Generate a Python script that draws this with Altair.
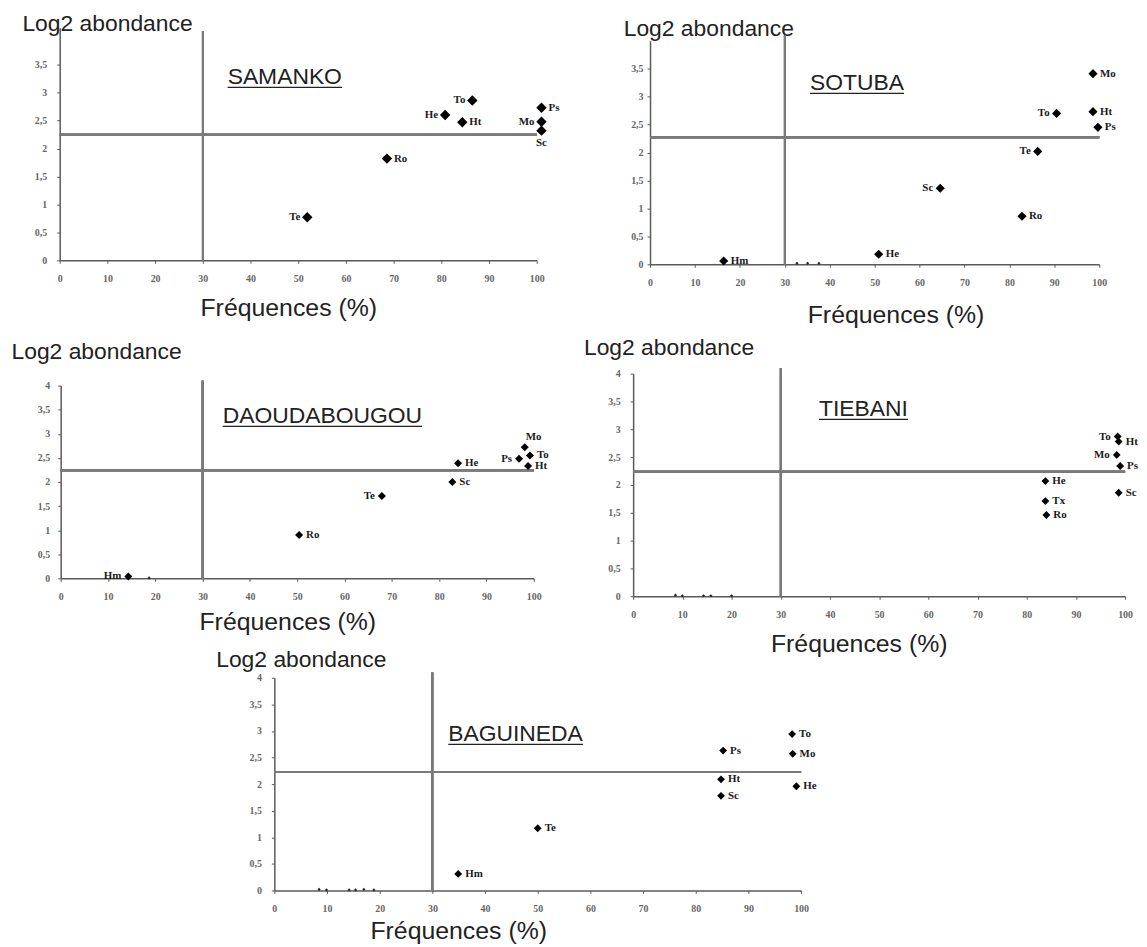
import altair as alt
import pandas as pd

# ---------------- data ----------------
PANELS = ["SAMANKO", "SOTUBA", "DAOUDABOUGOU", "TIEBANI", "BAGUINEDA"]

SAMANKO_SPECIES = ["Te", "Ro", "He", "Ht", "To", "Ps", "Mo", "Sc"]
SAMANKO_FREQ = [51.9, 68.6, 80.8, 84.4, 86.5, 101.0, 101.0, 101.0]
SAMANKO_LOG2 = [0.77, 1.82, 2.60, 2.47, 2.86, 2.73, 2.48, 2.32]
SAMANKO_MINOR_FREQ = []
SAMANKO_MINOR_LOG2 = []

SOTUBA_SPECIES = ["Hm", "He", "Sc", "Ro", "Te", "To", "Mo", "Ht", "Ps"]
SOTUBA_FREQ = [16.4, 50.9, 64.6, 82.8, 86.3, 90.5, 98.6, 98.6, 99.7]
SOTUBA_LOG2 = [0.06, 0.18, 1.36, 0.86, 2.02, 2.70, 3.41, 2.73, 2.45]
SOTUBA_MINOR_FREQ = [32.7, 35.1, 37.6]
SOTUBA_MINOR_LOG2 = [0.02, 0.02, 0.02]

DAOUDA_SPECIES = ["Hm", "Ro", "Te", "Sc", "He", "Ps", "Mo", "To", "Ht"]
DAOUDA_FREQ = [14.3, 50.4, 67.9, 82.8, 84.0, 96.9, 98.1, 99.2, 98.8]
DAOUDA_LOG2 = [0.04, 0.90, 1.71, 2.00, 2.39, 2.48, 2.72, 2.55, 2.33]
DAOUDA_MINOR_FREQ = [18.7]
DAOUDA_MINOR_LOG2 = [0.01]

TIEBANI_SPECIES = ["He", "Tx", "Ro", "To", "Ht", "Mo", "Ps", "Sc"]
TIEBANI_FREQ = [83.8, 83.8, 84.0, 98.5, 98.7, 98.3, 99.0, 98.7]
TIEBANI_LOG2 = [2.07, 1.71, 1.46, 2.87, 2.78, 2.54, 2.34, 1.86]
TIEBANI_MINOR_FREQ = [8.6, 10.0, 14.3, 15.8, 20.0]
TIEBANI_MINOR_LOG2 = [0.02, 0.01, 0.01, 0.01, 0.01]

BAGUINEDA_SPECIES = ["Hm", "Te", "Ps", "Ht", "Sc", "To", "Mo", "He"]
BAGUINEDA_FREQ = [34.9, 50.0, 85.2, 84.8, 84.8, 98.3, 98.4, 99.1]
BAGUINEDA_LOG2 = [0.31, 1.17, 2.63, 2.09, 1.78, 2.94, 2.57, 1.96]
BAGUINEDA_MINOR_FREQ = [8.5, 9.9, 14.2, 15.4, 17.0, 18.9]
BAGUINEDA_MINOR_LOG2 = [0.02, 0.01, 0.01, 0.01, 0.02, 0.01]

THRESH_FREQ = 30
THRESH_LOG2 = [2.25, 2.27, 2.24, 2.24, 2.23]

X_TICKS = [0, 10, 20, 30, 40, 50, 60, 70, 80, 90, 100]
Y_TICKS = [0, 0.5, 1, 1.5, 2, 2.5, 3, 3.5, 4]

X_TITLE = "Fréquences (%)"
Y_TITLE = "Log2 abondance"

SERIES = {
    "SAMANKO": (SAMANKO_SPECIES, SAMANKO_FREQ, SAMANKO_LOG2, SAMANKO_MINOR_FREQ, SAMANKO_MINOR_LOG2),
    "SOTUBA": (SOTUBA_SPECIES, SOTUBA_FREQ, SOTUBA_LOG2, SOTUBA_MINOR_FREQ, SOTUBA_MINOR_LOG2),
    "DAOUDABOUGOU": (DAOUDA_SPECIES, DAOUDA_FREQ, DAOUDA_LOG2, DAOUDA_MINOR_FREQ, DAOUDA_MINOR_LOG2),
    "TIEBANI": (TIEBANI_SPECIES, TIEBANI_FREQ, TIEBANI_LOG2, TIEBANI_MINOR_FREQ, TIEBANI_MINOR_LOG2),
    "BAGUINEDA": (BAGUINEDA_SPECIES, BAGUINEDA_FREQ, BAGUINEDA_LOG2, BAGUINEDA_MINOR_FREQ, BAGUINEDA_MINOR_LOG2),
}

# ---------------- styles / layout (page pixels) ----------------
LABEL_POS = {
    "SAMANKO": {"Te": "left", "He": "left", "To": "left", "Mo": "left", "Sc": "below"},
    "SOTUBA": {"Sc": "left", "Te": "left", "To": "left"},
    "DAOUDABOUGOU": {"Hm": "left", "Te": "left", "Ps": "left", "Mo": "above"},
    "TIEBANI": {"To": "left", "Mo": "left"},
    "BAGUINEDA": {},
}

# plot box: x0, x1, top, bottom (top = position of ymax) ; y-title (left, baseline) ;
# x-title (center, baseline) ; panel name (left, baseline) ; y label padding ; marker size
LAYOUT = {
    "SAMANKO": dict(box=(60, 540, 25, 259), ymax=4.16, yt=(22, 28), xt=(290, 315), nm=(229, 82),
                    lp=10, size=110, show4=False),
    "SOTUBA": dict(box=(654, 1106, 38, 263), ymax=4.0, yt=(627, 33), xt=(901, 322), nm=(815, 88),
                   lp=4, size=85, show4=False),
    "DAOUDABOUGOU": dict(box=(61, 537, 385, 579), ymax=4.0, yt=(11, 358), xt=(289, 630), nm=(224, 423),
                         lp=8, size=65, show4=True),
    "TIEBANI": dict(box=(637, 1132, 373, 597), ymax=4.0, yt=(587, 354), xt=(864, 653), nm=(824, 416),
                    lp=10, size=62, show4=True),
    "BAGUINEDA": dict(box=(276, 806, 679, 893), ymax=4.0, yt=(217, 668), xt=(461, 941), nm=(451, 743),
                      lp=10, size=62, show4=True),
}

M = 8             # page margin
W, H = 1131, 931  # one view covering the page

SANS = "Liberation Sans"
SERIF = "Liberation Serif"
AXIS_GREY = "#5a5a5a"
LINE_GREY = "#7a7a7a"
NAME_SIZE = 23
VLINE_TOP = 4.1

ARIAL_W = {"A": .667, "B": .667, "D": .722, "E": .667, "G": .778, "I": .278, "K": .667,
           "M": .833, "N": .722, "O": .778, "S": .667, "T": .611, "U": .722}

LABEL_EXPR = "replace(format(datum.value, '~g'), '.', ',')"


def panel(idx, name):
    species, freq, log2, mfreq, mlog2 = SERIES[name]
    st = LAYOUT[name]
    x0, x1, top, bot = st["box"]
    df = pd.DataFrame({"species": species, "freq": freq, "log2": log2,
                       "pos": [LABEL_POS[name].get(s, "right") for s in species]})
    minor = pd.DataFrame({"freq": mfreq, "log2": mlog2})

    yvals = Y_TICKS if st["show4"] else Y_TICKS[:-1]
    x_enc = alt.X("freq:Q", scale=alt.Scale(domain=[0, 100], nice=False, zero=False,
                                            range=[x0 - M, x1 - M]),
                  axis=alt.Axis(orient="bottom", offset=(bot - M) - H,
                                values=X_TICKS, labelExpr=LABEL_EXPR, title=X_TITLE,
                                titleFont=SANS, titleFontSize=25, titleFontWeight="normal",
                                titleColor="#222", titleX=st["xt"][0] - M, titleY=st["xt"][1] - bot,
                                titleAlign="center", titleBaseline="alphabetic",
                                labelPadding=10, labelOverlap=False, labelFlush=False))
    y_enc = alt.Y("log2:Q", scale=alt.Scale(domain=[0, st["ymax"]], nice=False, zero=False,
                                            range=[bot - M, top - M]),
                  axis=alt.Axis(orient="left", offset=-(x0 - M),
                                values=yvals, labelExpr=LABEL_EXPR, title=Y_TITLE,
                                titleFont=SANS, titleFontSize=23, titleFontWeight="normal",
                                titleColor="#222", titleAngle=0, titleAlign="left",
                                titleBaseline="alphabetic", titleX=st["yt"][0] - x0,
                                titleY=st["yt"][1] - M,
                                labelPadding=st["lp"], labelOverlap=False, labelFlush=False))

    base = alt.Chart(df)
    hline = base.mark_rule(color=LINE_GREY, strokeWidth=1.7).encode(
        x=alt.datum(0, type="quantitative"), x2=alt.datum(100),
        y=alt.datum(THRESH_LOG2[idx], type="quantitative"))
    vline = base.mark_rule(color=LINE_GREY, strokeWidth=1.7).encode(
        x=alt.datum(THRESH_FREQ, type="quantitative"),
        y=alt.datum(0, type="quantitative"), y2=alt.datum(VLINE_TOP))
    pts = base.mark_point(shape="diamond", filled=True, color="black", opacity=1,
                          size=st["size"]).encode(x=x_enc, y=y_enc)
    layers = [hline, vline, pts]
    if len(minor):
        layers.append(alt.Chart(minor).mark_point(shape="diamond", filled=True, color="#222",
                                                  opacity=1, size=10).encode(x="freq:Q", y="log2:Q"))
    txt = dict(font=SERIF, fontWeight="bold", fontSize=11, color="#1a1a1a", baseline="middle")
    for pos, extra in [("right", dict(align="left", dx=7)),
                       ("left", dict(align="right", dx=-7)),
                       ("below", dict(align="center", dy=12)),
                       ("above", dict(align="left", dx=1, dy=-10))]:
        layers.append(base.transform_filter(alt.datum.pos == pos).mark_text(**txt, **extra)
                      .encode(x="freq:Q", y="log2:Q", text="species:N"))
    # underlined panel name
    nx, nb = st["nm"]
    tw = sum(ARIAL_W.get(c, .667) for c in name) * NAME_SIZE
    layers.append(alt.Chart(df.head(1)).mark_text(font=SANS, fontSize=NAME_SIZE, color="#222",
                                                  align="left", baseline="alphabetic", text=name)
                  .encode(x=alt.value(nx - M), y=alt.value(nb - M)))
    layers.append(alt.Chart(df.head(1)).mark_rule(color="#222", strokeWidth=1.2)
                  .encode(x=alt.value(nx - M), x2=alt.value(nx - M + tw), y=alt.value(nb - M + 3)))
    return alt.layer(*layers)


chart = alt.layer(*[panel(i, n) for i, n in enumerate(PANELS)]).resolve_scale(
    x="independent", y="independent"
).resolve_axis(
    x="independent", y="independent"
).properties(
    width=W, height=H, padding=0, background="white"
).configure_view(stroke=None).configure_axis(
    domainColor=AXIS_GREY, domainWidth=1.5, tickColor=AXIS_GREY, tickSize=3, grid=False,
    labelFont=SERIF, labelFontSize=10, labelColor="#666", labelFontWeight="bold"
)

chart.save("out.html", embed_options={"renderer": "svg", "actions": False})
